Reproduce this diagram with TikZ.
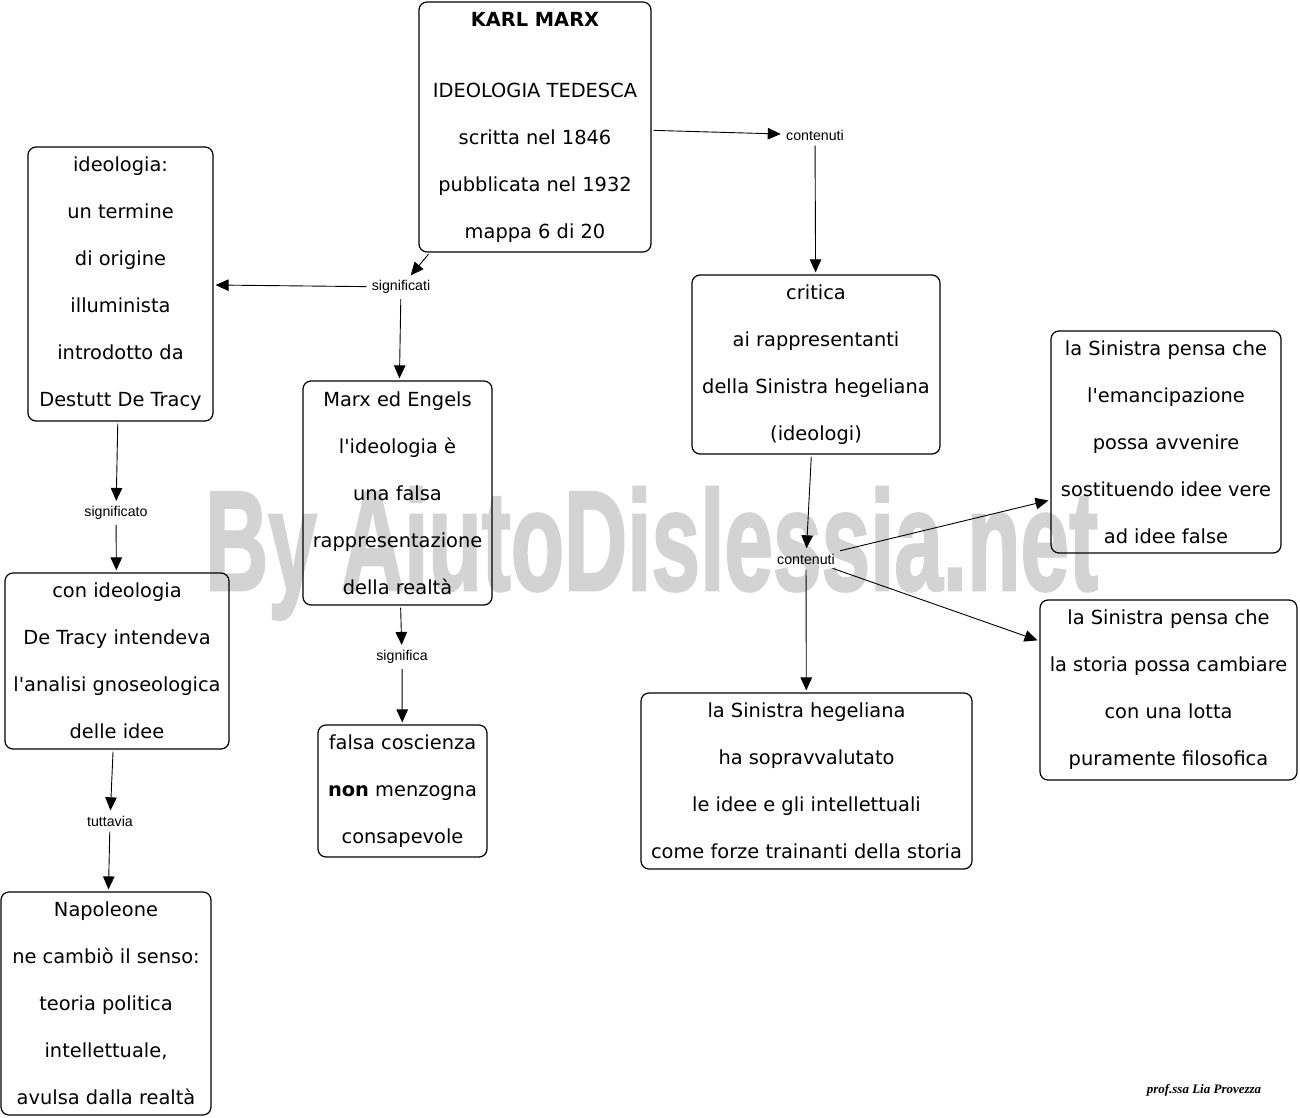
\documentclass[tikz,border=0pt]{standalone}
\usepackage{fontspec}
\setmainfont{DejaVu Sans}[Ligatures=TeXOff]
\newfontfamily\linkfont{Liberation Sans}
\newfontfamily\markfont{Liberation Sans}[BoldFeatures={FakeBold=2}]
\newfontfamily\signfont{Liberation Serif}
\usepackage{tikz}
\usetikzlibrary{arrows.meta}
\definecolor{markgray}{RGB}{211,211,211}

\begin{document}
\begin{tikzpicture}[x=1pt,y=-1pt,
  ->,>={Triangle[length=13pt,width=11.5pt]},shorten >=2pt,shorten <=2pt,line width=0.9pt,
  concept/.style={draw,rectangle,rounded corners=8pt,line width=1.2pt,align=center,inner sep=0pt,font=\fontsize{19.4}{47}\selectfont},
  linkword/.style={inner sep=3pt,font=\linkfont\fontsize{14.2}{16}\selectfont}]
      \useasboundingbox (0,0) rectangle (1300,1118);

      % watermark
      \node[anchor=base west,xscale=0.615,transform shape,text=markgray,inner sep=0pt,
        font=\markfont\bfseries\fontsize{142}{142}\selectfont] (mark) at (205,590) {By AiutoDislessia.net};

      \node[concept,minimum width=232pt,minimum height=250pt] (marx) at (535,127)
        {\textbf{KARL MARX}\\[24pt]IDEOLOGIA TEDESCA\\scritta nel 1846\\pubblicata nel 1932\\mappa 6 di 20};
      \node[concept,minimum width=185pt,minimum height=274pt] (ideol) at (120.5,284)
        {ideologia:\\un termine\\di origine\\illuminista\\introdotto da\\Destutt De Tracy};
      \node[concept,minimum width=189pt,minimum height=224pt] (engels) at (397.5,493)
        {Marx ed Engels\\l'ideologia è\\una falsa\\rappresentazione\\della realtà};
      \node[concept,minimum width=169pt,minimum height=132pt] (falsa) at (402.5,791)
        {falsa coscienza\\\textbf{non} menzogna\\consapevole};
      \node[concept,minimum width=224pt,minimum height=176pt] (tracy) at (117,661)
        {con ideologia\\De Tracy intendeva\\l'analisi gnoseologica\\delle idee};
      \node[concept,minimum width=210pt,minimum height=223pt] (napol) at (106,1003.5)
        {Napoleone\\ne cambiò il senso:\\teoria politica\\intellettuale,\\avulsa dalla realtà};
      \node[concept,minimum width=248pt,minimum height=179pt] (critica) at (816,364.5)
        {critica\\ai rappresentanti\\della Sinistra hegeliana\\(ideologi)};
      \node[concept,minimum width=331pt,minimum height=176pt] (hegel) at (806.5,781)
        {la Sinistra hegeliana\\ha sopravvalutato\\le idee e gli intellettuali\\come forze trainanti della storia};
      \node[concept,minimum width=230pt,minimum height=222pt] (emanc) at (1166,442)
        {la Sinistra pensa che\\l'emancipazione\\possa avvenire\\sostituendo idee vere\\ad idee false};
      \node[concept,minimum width=257pt,minimum height=180pt] (storia) at (1168.5,690)
        {la Sinistra pensa che\\la storia possa cambiare\\con una lotta\\puramente filosofica};

      \node[linkword] (lc1) at (815,135) {contenuti};
      \node[linkword] (lsi) at (401,287) {significati};
      \node[linkword] (lso) at (116,513) {significato};
      \node[linkword] (lsa) at (402,657) {significa};
      \node[linkword] (ltu) at (110,821) {tuttavia};
      \node[linkword] (lc2) at (806,559) {contenuti};

      \node[inner sep=0pt,font=\signfont\bfseries\itshape\fontsize{13}{15}\selectfont] (sign) at (1204,1090) {prof.ssa Lia Provezza};

       \path
	(marx) edge (lc1)
	(lc1) edge (critica)
	(marx) edge (lsi)
	(lsi) edge (ideol)
	(lsi) edge (engels)
	(ideol) edge (lso)
	(lso) edge (tracy)
	(engels) edge (lsa)
	(lsa) edge (falsa)
	(tracy) edge (ltu)
	(ltu) edge (napol)
	(critica) edge (lc2)
	(lc2) edge (hegel)
	(lc2) edge ([yshift=-58pt]emanc.west)
	(lc2) edge ([yshift=49pt]storia.west);

\end{tikzpicture}
\end{document}
